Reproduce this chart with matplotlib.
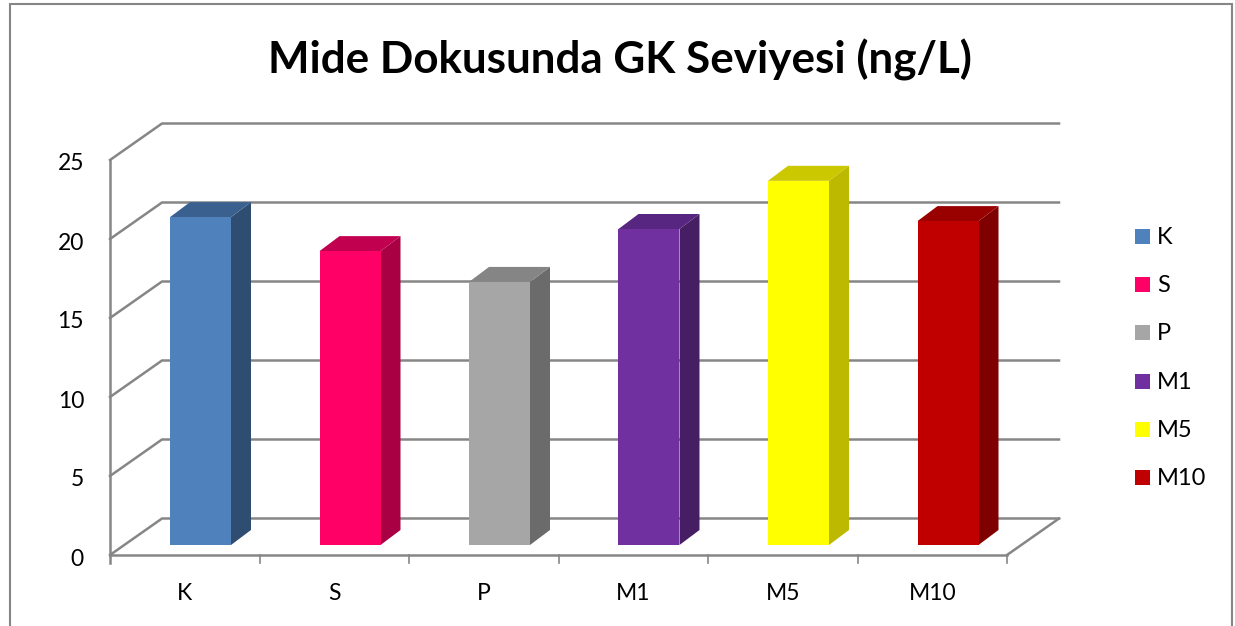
import matplotlib
matplotlib.use("Agg")
import matplotlib.pyplot as plt
from matplotlib.lines import Line2D
from matplotlib.patches import Polygon, Rectangle

plt.rcParams['font.family'] = ['Lato', 'DejaVu Sans']

categories = ["K", "S", "P", "M1", "M5", "M10"]
values = [20.75, 18.6, 16.65, 20.0, 23.05, 20.5]
front_colors = ["#4F81BD", "#FF0066", "#A6A6A6", "#7030A0", "#FFFF00", "#C00000"]
side_colors = ["#2F4D71", "#A80043", "#6B6B6B", "#451E63", "#BDB800", "#7F0000"]
top_colors = ["#3A6090", "#C20050", "#858585", "#572680", "#CCC800", "#990000"]
y_ticks = [0, 5, 10, 15, 20, 25]
title = "Mide Dokusunda GK Seviyesi (ng/L)"

W, H = 1235, 626
fig = plt.figure(figsize=(W / 100, H / 100), dpi=100, facecolor="white")
fig.add_artist(Line2D([10 / W, 10 / W, 1232 / W, 1232 / W], [0, 1 - 3.5 / H, 1 - 3.5 / H, 0],
                      transform=fig.transFigure, color="#868686", lw=1.5,
                      solid_joinstyle="miter"))

L, R, T, B = 110, 1007, 160, 555
ax = fig.add_axes([L / W, 1 - B / H, (R - L) / W, (B - T) / H])
ax.set_xlim(0, len(categories))
ax.set_ylim(0, 25)
ax.axis("off")

px = len(categories) / (R - L)
py = 25 / (B - T)
wall_dx, wall_dy = 52 * px, 36.5 * py
grid = "#868686"

for t in y_ticks:
    ax.plot([0, wall_dx, 6 + wall_dx], [t, t + wall_dy, t + wall_dy], color=grid, lw=1.8,
            clip_on=False, zorder=1, solid_joinstyle="miter")
    ax.text(-26 * px, t - 4 * py, str(t), ha="right", va="center", fontsize=16.5, color="black")
ax.plot([0, 0], [-8 * py, 25], color=grid, lw=1.8, clip_on=False, zorder=1)
ax.plot([0, 6], [0, 0], color=grid, lw=1.8, clip_on=False, zorder=1)
ax.plot([6, 6 + wall_dx], [0, wall_dy], color=grid, lw=1.8, clip_on=False, zorder=1)

for i in range(1, len(categories) + 1):
    ax.plot([i, i], [0, -8 * py], color=grid, lw=1.2, clip_on=False, zorder=1)

bar_w = 61 * px
off_x, off_y = 14 * px, 10 * py
dep_x, dep_y = 20 * px, 15 * py
for i, (cat, v, fc, sc, tc) in enumerate(zip(categories, values, front_colors, side_colors, top_colors)):
    x0 = i + 46 * px + off_x
    x1 = x0 + bar_w
    y0, y1 = off_y, off_y + v
    ax.add_patch(Rectangle((x0, y0), bar_w, v, fc=fc, ec="none", zorder=4))
    ax.add_patch(Polygon([(x1, y0), (x1 + dep_x, y0 + dep_y), (x1 + dep_x, y1 + dep_y), (x1, y1)],
                         fc=sc, ec="none", zorder=3))
    ax.add_patch(Polygon([(x0, y1), (x1, y1), (x1 + dep_x, y1 + dep_y), (x0 + dep_x, y1 + dep_y)],
                         fc=tc, ec="none", zorder=3))
    ax.text(i + 0.5, -38.5 * py, cat, ha="center", va="center", fontsize=16.5, color="black")

for i, (cat, fc) in enumerate(zip(categories, front_colors)):
    yc = 236.5 + i * 48.2
    fig.add_artist(Rectangle((1135 / W, 1 - (yc + 7.5) / H), 15 / W, 15 / H, transform=fig.transFigure,
                             fc=fc, ec="none"))
    fig.text(1157 / W, 1 - (yc + 1) / H, cat, ha="left", va="center", fontsize=17, color="black")

fig.text(620 / W, 1 - 60 / H, title, ha="center", va="center", fontsize=31.7, fontweight="bold", color="black")

fig.savefig("out.png", dpi=100)
